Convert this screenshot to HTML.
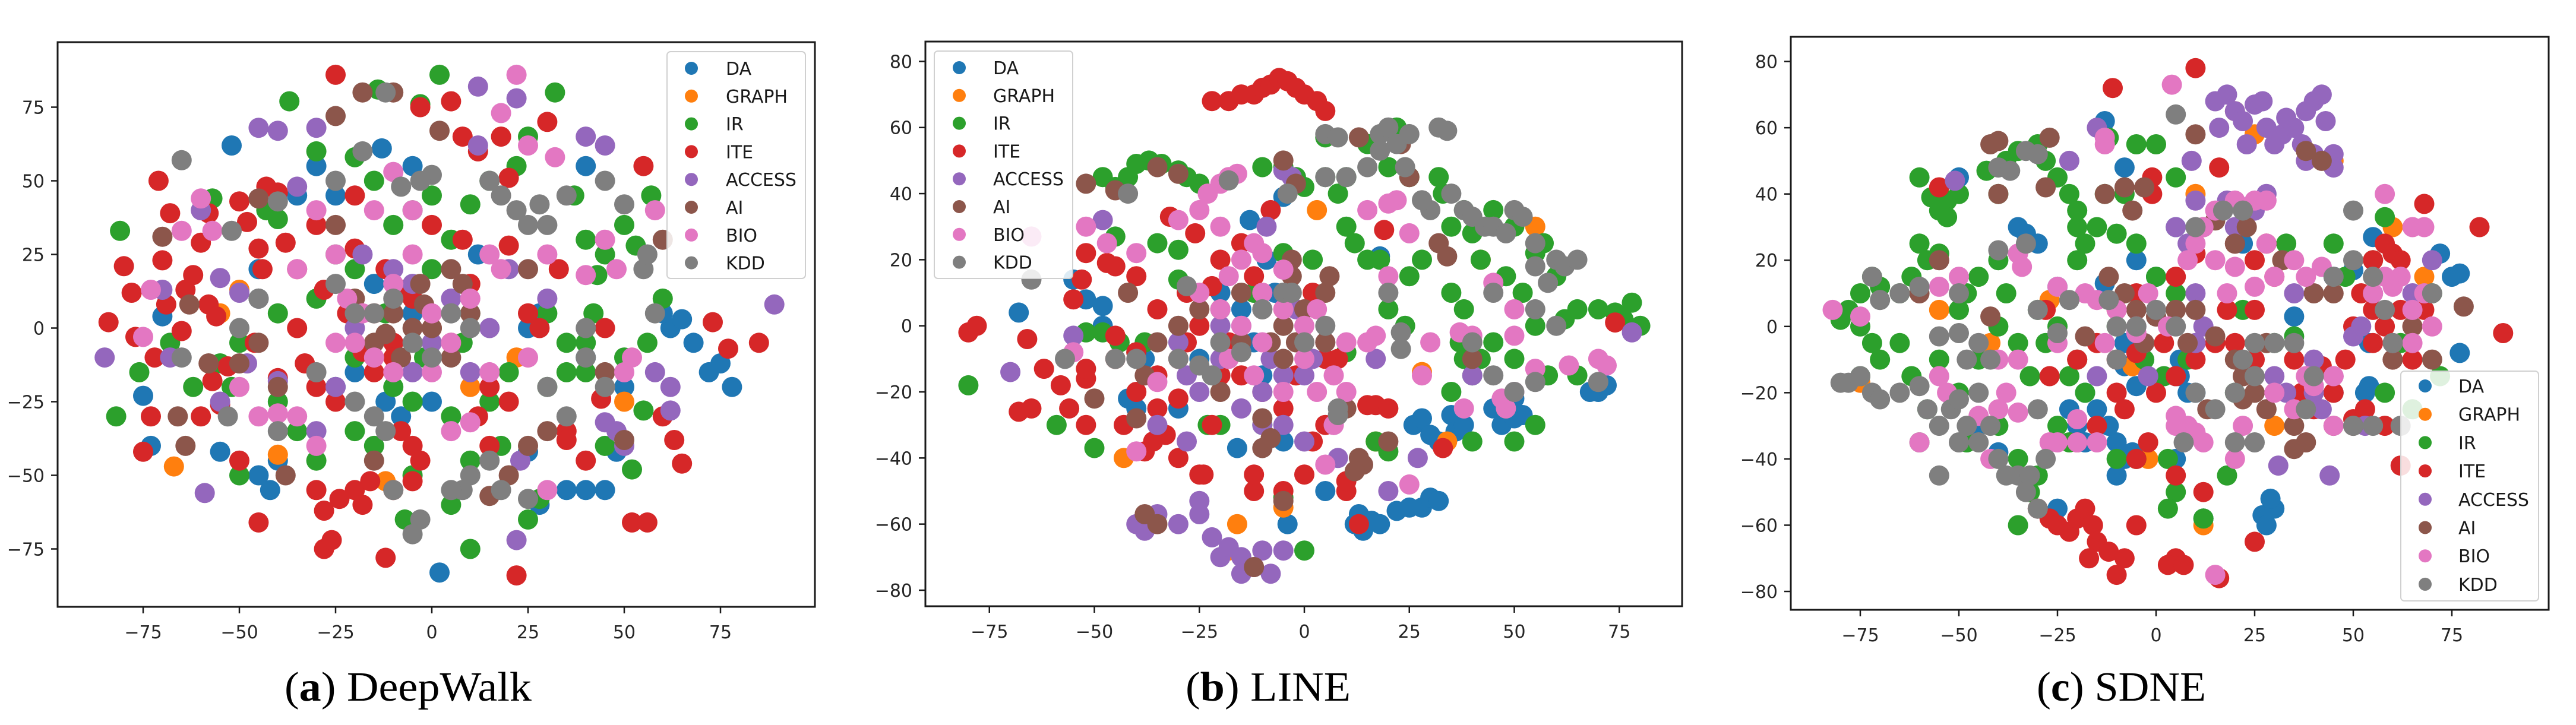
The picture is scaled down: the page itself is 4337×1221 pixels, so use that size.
<!DOCTYPE html>
<html><head><meta charset="utf-8">
<style>
html,body{margin:0;padding:0;background:#fff;}
svg{display:block;}
text{font-family:"DejaVu Sans","Liberation Sans",sans-serif;}
.cap{font-family:"Liberation Serif",serif;}
</style></head>
<body>
<svg id="fig" width="4337" height="1221" viewBox="0 0 4337 1221" xmlns="http://www.w3.org/2000/svg"></svg>
<script>
const categories = ["DA","GRAPH","IR","ITE","ACCESS","AI","BIO","KDD"];
const colors = ["#1f77b4","#ff7f0e","#2ca02c","#d62728","#9467bd","#8c564b","#e377c2","#7f7f7f"];
const xTicksA = [-75,-50,-25,0,25,50,75];
const yTicksA = [-75,-50,-25,0,25,50,75];
const xTicksB = [-75,-50,-25,0,25,50,75];
const yTicksB = [-80,-60,-40,-20,0,20,40,60,80];
const xTicksC = [-75,-50,-25,0,25,50,75];
const yTicksC = [-80,-60,-40,-20,0,20,40,60,80];

// Panel A (DeepWalk)
const aDA=[[-52,62],[-13,61],[-5,55],[-70,4],[-75,-23],[-73,-40],[-55,-42],[-45,-50],[-42,-55],[-40,-45],[-25,-20],[-12,-25],[-8,-30],[0,-25],[2,-83],[25,0],[28,5],[40,55],[48,-42],[45,-55],[40,-55],[35,-55],[28,-60],[62,0],[65,3],[60,5],[68,-5],[75,-12],[78,-20],[72,-15],[-25,45],[-15,15],[-5,5],[-35,45],[40,-10],[-20,-15],[50,-20],[25,-42],[-30,55],[12,25],[-45,20]];
const aGRAPH=[[-67,-47],[-40,-43],[-12,-52],[-50,13],[-55,5],[10,-20],[50,-25],[22,-10]];
const aIR=[[2,86],[-37,77],[-14,81],[-3,76],[-81,33],[-43,40],[-40,37],[-57,44],[-30,60],[-20,58],[-15,50],[-10,35],[-5,40],[0,45],[5,30],[10,42],[15,50],[22,55],[25,65],[32,80],[37,45],[40,30],[43,18],[45,25],[50,35],[53,28],[57,45],[60,10],[56,-5],[50,-10],[40,-5],[35,-15],[30,-20],[20,-15],[15,-25],[5,-30],[-5,-25],[-10,-20],[-20,-10],[-30,10],[-40,5],[-45,10],[-50,-5],[-52,-20],[-55,-12],[-62,-20],[-68,-5],[-76,-15],[-82,-30],[-40,-25],[-35,-35],[-50,-50],[-30,-45],[-20,-35],[-15,-40],[-5,-50],[-7,-65],[5,-60],[10,-75],[25,-65],[28,-58],[18,-40],[10,-45],[55,-28],[40,-15],[45,-40],[52,-48],[8,-5],[-20,20],[-25,25],[0,20],[30,5],[35,-5],[42,5],[-12,5],[10,5],[-2,-10]];
const aITE=[[-25,86],[-80,21],[-78,12],[-84,2],[-77,-3],[-72,-10],[-71,50],[-70,23],[-68,39],[-69,8],[-65,-1],[-64,13],[-62,18],[-58,8],[-56,4],[-57,-18],[-53,-13],[-50,43],[-48,36],[-46,-5],[-45,27],[-44,20],[-40,46],[-40,-17],[-38,29],[-35,20],[-33,-12],[-30,35],[-28,13],[-25,-25],[-22,5],[-20,27],[-18,-8],[-15,-15],[-12,20],[-10,-5],[-8,13],[-5,-40],[-3,75],[5,77],[8,65],[12,60],[18,65],[20,51],[20,28],[25,5],[30,70],[35,-35],[35,-38],[40,-45],[60,-30],[55,55],[63,-38],[65,-46],[73,2],[77,-7],[85,-5],[52,-66],[56,-66],[-30,-55],[-28,-62],[-24,-58],[-20,-55],[-18,-60],[-16,-52],[-12,-78],[-28,-75],[-26,-72],[-45,-66],[-5,-52],[-10,-55],[22,-84],[15,-40],[-3,-45],[-10,-10],[0,0],[5,-5],[-5,10],[10,15],[15,-20],[-15,5],[-35,0],[-30,-20],[20,-25],[28,0],[-60,-30],[-73,-30],[-75,-42],[-55,-26],[-60,29],[-58,39],[-43,48],[-50,-45],[-8,-35],[12,-30],[-20,45],[0,35],[8,30],[33,20],[45,0],[44,-24]];
const aACCESS=[[-45,68],[-40,67],[-30,68],[12,82],[22,78],[-60,40],[-70,13],[-68,-10],[-85,-10],[-55,17],[-50,12],[-45,10],[-48,-12],[-40,-18],[-55,-25],[-59,-56],[-30,-35],[-25,-20],[-18,25],[-10,20],[-5,15],[0,-5],[5,10],[10,-15],[20,20],[23,-45],[22,-72],[58,-15],[62,-28],[62,-20],[48,-35],[50,-40],[45,-32],[45,62],[40,65],[89,8],[12,62],[-35,48],[-5,-15],[15,0],[30,10],[-20,0]];
const aAI=[[-25,72],[-18,80],[-10,80],[-15,-5],[-10,5],[-5,0],[0,0],[-20,10],[-8,-10],[5,-10],[10,5],[-3,15],[5,20],[-40,-20],[-50,-12],[-58,-12],[-64,-40],[-66,-30],[-70,31],[-63,8],[-45,-5],[-38,-50],[-15,-45],[20,-50],[25,-40],[15,-57],[2,67],[45,-15],[50,-38],[60,30],[-45,44],[-25,35],[25,20],[30,-35],[8,15],[-12,-2],[-2,8]];
const aBIO=[[22,86],[18,73],[25,62],[32,58],[-60,44],[-65,33],[-57,33],[-73,13],[-75,-3],[-50,-20],[-45,-30],[-40,-29],[-35,-30],[-30,-40],[-25,-5],[-22,10],[-18,5],[-15,-10],[-10,15],[-5,25],[0,5],[5,-5],[10,10],[15,-15],[-20,-5],[-30,40],[-15,40],[-10,53],[45,30],[58,40],[50,-15],[52,-10],[40,18],[48,20],[30,25],[18,20],[25,-10],[30,-55],[10,-32],[5,-35],[-35,20],[-5,40],[-10,-15],[0,-15],[15,25],[-25,25]];
const aKDD=[[-12,80],[-65,57],[-40,43],[-52,33],[-45,10],[-50,0],[-65,-10],[-53,-30],[-40,-35],[-20,-25],[-15,-30],[-12,-35],[-30,-15],[-15,5],[-10,10],[-5,-5],[0,-10],[5,5],[10,0],[-20,5],[-25,15],[15,50],[18,45],[22,40],[25,35],[28,42],[30,35],[35,45],[45,50],[50,42],[55,20],[58,5],[56,25],[40,-10],[45,-20],[30,-20],[10,-50],[8,-55],[5,-55],[15,-45],[18,-55],[-3,-65],[-5,-70],[-10,-55],[25,-58],[35,-30],[0,52],[-3,50],[-18,60],[-25,50],[-8,48],[40,0]];

// Panel B (LINE)
const bDA=[[-5,39],[-13,32],[-9,20],[-55,14],[-68,4],[-52,8],[-48,6],[-48,0],[-40,-25],[-38,-10],[-42,-22],[-30,-25],[-25,-10],[-16,-37],[-12,-5],[-10,-15],[-4,-60],[-5,-35],[5,-50],[12,-60],[14,-62],[13,-57],[16,-59],[18,-60],[22,-56],[25,-55],[28,-55],[30,-52],[32,-53],[26,-30],[28,-28],[30,-33],[32,-35],[35,-27],[36,-32],[38,-30],[45,-25],[47,-30],[50,-28],[52,-27],[50,-22],[70,-20],[72,-18],[68,-20],[-20,10],[-15,5],[-7,10],[18,21]];
const bGRAPH=[[3,35],[-43,-40],[-16,-60],[-18,-68],[34,-35],[42,20],[55,30],[-5,-55],[17,-35],[28,-14]];
const bIR=[[-48,45],[-45,42],[-42,45],[-40,49],[-37,50],[-34,49],[-30,47],[-28,45],[-25,43],[-80,-18],[-59,-30],[-50,-37],[-44,-5],[-48,-2],[-40,-8],[-35,25],[-30,23],[-30,14],[-45,27],[-52,-2],[-10,48],[-5,48],[-2,45],[0,42],[5,45],[8,40],[10,45],[5,57],[15,55],[22,60],[20,48],[25,45],[32,45],[33,40],[35,30],[38,35],[40,28],[45,35],[42,20],[50,30],[55,22],[48,15],[52,10],[60,15],[57,25],[55,0],[62,2],[50,-10],[45,-5],[42,-10],[38,5],[35,10],[37,-5],[40,-15],[35,-20],[48,-25],[50,-35],[58,-15],[65,-15],[70,5],[74,4],[76,2],[80,0],[78,7],[65,5],[10,30],[12,25],[15,20],[18,20],[20,5],[25,15],[28,20],[24,0],[2,20],[-5,22],[-12,10],[-20,5],[-23,-30],[-10,-30],[17,-35],[20,-38],[40,-35],[0,-68],[-5,-52],[-20,-30],[10,-8],[38,-10],[55,-30],[-38,-5]];
const bITE=[[-22,68],[-18,68],[-15,70],[-12,70],[-10,72],[-8,73],[-6,75],[-4,74],[-2,72],[0,70],[3,68],[5,65],[-80,-2],[-78,0],[-66,-4],[-68,-26],[-65,-25],[-62,-13],[-58,-18],[-56,-25],[-52,-30],[-52,-16],[-52,-13],[-55,8],[-53,14],[-52,22],[-47,19],[-45,18],[-45,-10],[-43,-30],[-40,-20],[-38,-38],[-36,-35],[-35,-25],[-33,-33],[-32,33],[-30,-40],[-30,-22],[-28,-5],[-26,28],[-25,-45],[-24,-45],[-22,-30],[-20,20],[-18,-5],[-15,25],[-12,-50],[-12,-45],[-10,10],[-8,35],[-5,-25],[-5,-50],[-2,-15],[0,-45],[2,-35],[5,-30],[8,-10],[10,-50],[10,-47],[15,-24],[17,-24],[20,-25],[19,29],[13,-60],[33,-37],[74,1],[-35,5],[-30,-10],[-25,0],[-20,-15],[-15,-15],[-10,-20],[-5,5],[0,-5],[5,-10],[-28,10],[-35,-15],[-22,12],[-12,15],[2,10],[-40,15],[-45,-3],[-40,-8]];
const bACCESS=[[-48,32],[-55,-3],[-70,-14],[-40,-60],[-38,-62],[-35,-57],[-30,-60],[-25,-57],[-25,-53],[-22,-64],[-20,-70],[-18,-67],[-15,-70],[-12,-73],[-10,-68],[-15,-75],[-8,-75],[-5,-68],[-30,-5],[-28,-15],[-25,-20],[-20,-10],[-15,-25],[-10,-20],[-8,-10],[-5,-15],[0,-15],[2,-10],[5,-5],[-35,-30],[-28,-35],[-10,-30],[-9,30],[-5,-30],[0,-35],[7,-30],[8,-40],[17,-10],[20,-50],[27,-40],[40,-15],[78,-2],[-5,47],[-3,45],[-15,0],[-20,0],[-2,5]];
const bAI=[[-52,43],[-45,41],[-35,48],[-30,46],[-42,10],[-40,-28],[-50,-22],[-38,-15],[-35,-5],[-30,0],[-25,5],[-20,5],[-15,10],[-10,5],[-5,0],[0,5],[5,10],[-15,-5],[-8,-5],[-2,-5],[5,-5],[-5,-10],[-20,-20],[-10,-28],[-10,-37],[-8,-34],[-12,-73],[-5,-53],[-3,20],[-3,15],[-5,50],[-2,43],[14,-42],[10,-25],[13,-40],[12,-44],[-35,-60],[-38,-57],[13,57],[20,-35],[23,55],[25,45],[32,25],[34,21],[40,-10],[6,15]];
const bBIO=[[-20,43],[-18,45],[-16,46],[-23,40],[-52,30],[-47,25],[-40,22],[-30,32],[-25,35],[-20,30],[-18,15],[-15,20],[-12,25],[-10,22],[-5,17],[-25,10],[-20,5],[-15,0],[-10,10],[-5,5],[0,0],[3,5],[-18,-10],[-10,-5],[0,-10],[-12,-15],[-5,-20],[3,-20],[7,-15],[10,-20],[10,-5],[15,-5],[17,-3],[20,15],[22,38],[20,37],[25,28],[28,-15],[30,-5],[37,-2],[40,-3],[50,-3],[47,-22],[48,-25],[50,-20],[55,-13],[63,-12],[70,-10],[72,-12],[45,13],[50,5],[-35,-17],[-55,-8],[-65,27],[7,-30],[-40,-38],[5,-42],[25,-48],[15,35],[38,-25]];
const bKDD=[[5,58],[8,57],[18,58],[20,60],[22,55],[25,58],[18,53],[24,48],[32,60],[34,59],[5,45],[10,45],[15,48],[35,40],[30,35],[28,38],[38,35],[40,33],[43,30],[45,30],[48,28],[50,35],[52,33],[55,25],[55,18],[60,20],[58,13],[62,18],[65,20],[45,10],[55,5],[60,0],[40,-5],[45,-15],[50,-20],[55,-17],[20,10],[23,-2],[23,-7],[8,-25],[8,-27],[5,0],[-5,10],[-10,5],[-15,-8],[-20,-5],[-25,-12],[-30,-10],[-28,12],[-40,-10],[-45,-10],[-57,-10],[-65,14],[-42,40],[-4,40],[-18,44],[-3,10],[0,-5],[-22,-15],[70,-17]];

// Panel C (SDNE)
const cDA=[[-50,45],[-8,48],[-13,62],[-35,30],[-33,28],[-30,25],[-22,-25],[-20,-30],[-18,-35],[-15,-25],[-18,-20],[-10,-35],[-8,-40],[-10,-45],[-12,-30],[-6,-38],[6,-15],[8,-20],[6,-10],[10,-20],[-8,-12],[-5,-18],[27,-57],[28,-60],[30,-55],[29,-52],[5,-40],[12,-58],[-25,-55],[-40,-38],[-45,-30],[-5,20],[0,15],[-13,13],[-25,12],[5,30],[22,25],[-8,-5],[35,3],[45,-20],[50,17],[53,-20],[54,-18],[55,27],[75,15],[77,16],[77,-8],[72,22],[54,-5],[45,15],[5,-15]];
const cGRAPH=[[-42,-5],[-55,5],[-27,8],[-6,-12],[-2,-40],[12,-60],[20,65],[25,58],[32,20],[45,50],[60,30],[68,15],[30,-30],[10,40],[-75,-17]];
const cIR=[[-60,45],[-57,39],[-55,35],[-53,38],[-50,40],[-53,33],[-60,25],[-58,20],[-55,22],[-62,15],[-65,10],[-70,12],[-72,15],[-75,10],[-78,5],[-80,2],[-75,0],[-72,-5],[-70,-10],[-75,-15],[-65,-5],[-62,-15],[-58,-25],[-60,-35],[-55,-10],[-50,5],[-48,10],[-45,15],[-40,20],[-40,40],[-43,47],[-38,50],[-35,53],[-30,55],[-28,50],[-25,45],[-22,40],[-20,30],[-20,20],[-18,25],[-15,30],[-10,28],[-5,25],[-38,10],[-40,0],[-35,-5],[-30,5],[-25,0],[-32,-15],[-22,-15],[-18,-20],[-25,-30],[-22,-35],[-35,-40],[-30,-45],[-32,-50],[-35,-60],[-28,-5],[-20,-10],[-10,0],[-3,-10],[2,-15],[-5,-40],[3,-40],[5,-50],[8,-10],[5,10],[0,15],[-5,55],[-12,57],[5,45],[0,55],[-8,40],[-13,40],[-45,-10],[-50,-20],[-48,-35],[-40,-30],[12,-58],[18,-45],[20,-20],[22,5],[30,-5],[35,-3],[40,-18],[48,15],[45,25],[55,20],[58,33],[62,-5],[70,10],[58,-20],[72,-15],[65,-25],[33,25],[-10,-40],[3,-55],[-20,35]];
const cITE=[[10,78],[-11,72],[-55,42],[-1,45],[-1,40],[16,48],[20,25],[25,20],[28,25],[30,15],[25,5],[18,5],[15,-5],[20,-5],[25,-10],[22,-15],[10,-10],[5,-15],[2,-5],[-5,-8],[-10,-10],[-15,-5],[-20,-10],[-10,5],[-5,10],[5,15],[10,22],[0,-20],[-10,-20],[-8,-25],[-15,-30],[-20,-35],[-27,-15],[-28,5],[-2,-35],[5,-45],[-5,-40],[12,-50],[25,-65],[16,-76],[5,-70],[3,-72],[7,-72],[-30,-55],[-27,-58],[-25,-60],[-22,-62],[-20,-58],[-18,-55],[-16,-60],[-15,-65],[-12,-68],[-8,-70],[-17,-70],[-5,-60],[-10,-75],[55,20],[58,25],[60,22],[62,20],[52,10],[55,5],[58,0],[60,-5],[62,5],[65,0],[68,5],[55,-5],[50,0],[48,-10],[45,-20],[40,-25],[50,-28],[60,-10],[65,-10],[82,30],[88,-2],[62,-42],[68,37],[42,-12],[35,-10],[37,-20],[53,-25],[58,-30]];
const cACCESS=[[15,68],[20,65],[22,62],[25,67],[27,68],[18,70],[28,60],[30,55],[32,58],[35,60],[38,65],[40,68],[42,70],[43,62],[37,55],[38,50],[40,52],[45,52],[45,48],[33,63],[23,55],[16,60],[-15,60],[-22,50],[-51,44],[9,50],[10,38],[18,38],[22,36],[25,35],[28,40],[5,30],[8,25],[10,10],[12,0],[10,-5],[-3,-5],[-15,-15],[-2,-15],[30,-15],[33,-20],[40,-20],[42,-25],[45,-15],[50,-3],[52,0],[55,10],[65,10],[70,20],[53,-30],[40,-10],[31,-42],[44,-45],[20,30],[35,10]];
const cAI=[[-42,55],[-40,56],[-27,57],[-28,42],[-40,40],[-55,20],[-60,10],[-42,3],[-13,40],[-8,42],[-3,42],[-6,35],[-18,-3],[-12,15],[-8,10],[-5,5],[0,3],[5,5],[-3,-5],[10,5],[8,-5],[12,30],[15,32],[20,25],[23,30],[15,-3],[20,-10],[22,-15],[25,-20],[28,-25],[22,-22],[35,-30],[38,-35],[35,-37],[45,-30],[50,-30],[40,10],[45,10],[55,15],[60,-10],[65,0],[70,-10],[78,6],[38,53],[42,50],[10,58],[28,-5],[13,-25],[32,20]];
const cBIO=[[4,73],[-13,57],[-13,55],[-34,18],[-35,22],[-25,12],[-18,10],[-15,8],[-10,5],[-5,0],[-13,-5],[-20,-28],[-25,-35],[-27,-35],[-35,-26],[-40,-25],[-45,-27],[-38,-20],[-40,-10],[-53,-20],[-55,-15],[-50,15],[-55,12],[-82,5],[-75,3],[-20,-35],[-15,-35],[5,-27],[8,-30],[10,-32],[12,-35],[5,-30],[15,20],[18,10],[20,18],[25,12],[28,25],[30,15],[15,35],[12,30],[10,25],[8,20],[20,38],[25,38],[28,38],[30,-20],[35,-25],[38,-15],[40,-18],[45,-15],[45,-30],[35,20],[38,15],[42,18],[55,10],[58,15],[60,12],[62,15],[65,5],[68,10],[70,0],[65,-5],[60,-5],[58,40],[65,30],[68,30],[20,-40],[15,-75],[22,-30],[-5,-2],[-42,-40],[-60,-35],[-25,-5],[-35,-10],[-2,10],[3,0]];
const cKDD=[[5,64],[-40,48],[-37,47],[-33,53],[-30,52],[-33,25],[-40,23],[-50,10],[-60,12],[-65,10],[-70,8],[-72,15],[-75,-15],[-78,-17],[-80,-17],[-72,-20],[-70,-22],[-65,-20],[-60,-18],[-58,-25],[-55,-30],[-52,-25],[-50,-22],[-48,-30],[-50,-35],[-45,-35],[-42,-30],[-45,-20],[-48,-10],[-45,-5],[-42,-10],[-50,-2],[-55,-3],[-55,-45],[-40,-40],[-38,-45],[-35,-45],[-33,-50],[-30,-55],[-32,-45],[-28,-40],[-30,-25],[-30,5],[-25,-2],[-22,8],[-12,8],[-10,0],[-5,0],[0,5],[5,0],[-10,-10],[10,-20],[15,-25],[20,-35],[25,-35],[22,-10],[25,-15],[20,-20],[25,-5],[30,-5],[35,-5],[38,-25],[40,-15],[50,-30],[55,-30],[10,30],[17,35],[22,35],[45,15],[50,20],[55,15],[58,5],[60,-5],[70,10],[62,-30],[50,35],[7,-35]];

const NS="http://www.w3.org/2000/svg";
const svg=document.getElementById('fig');
function mk(tag,attrs,parent){const e=document.createElementNS(NS,tag);for(const k in attrs)e.setAttribute(k,attrs[k]);(parent||svg).appendChild(e);return e;}

const panels=[
 {id:'deepwalk',series:[aDA,aGRAPH,aIR,aITE,aACCESS,aAI,aBIO,aKDD],xt:xTicksA,yt:yTicksA,
  box:[97,71,1372,1022],x0:727,xs:6.48,y0:552.5,ys:4.96,
  leg:[1123,87,233,382],legMx:1164,legTx:1222,legY:115,legStep:46.8,
  capL:'a',capR:' DeepWalk',capX:479,capW:416},
 {id:'line',series:[bDA,bGRAPH,bIR,bITE,bACCESS,bAI,bBIO,bKDD],xt:xTicksB,yt:yTicksB,
  box:[1558,70,2832,1021],x0:2196,xs:7.07,y0:548.7,ys:5.566,
  leg:[1573,86,233,383],legMx:1615,legTx:1672,legY:114,legStep:46.8,
  capL:'b',capR:' LINE',capX:1996,capW:278},
 {id:'sdne',series:[cDA,cGRAPH,cIR,cITE,cACCESS,cAI,cBIO,cKDD],xt:xTicksC,yt:yTicksC,
  box:[3015,62,4291,1027],x0:3630,xs:6.64,y0:549.8,ys:5.578,
  leg:[4042,625,232,387],legMx:4083,legTx:4139,legY:650,legStep:47.7,
  capL:'c',capR:' SDNE',capX:3429,capW:285}
];

panels.forEach(p=>{
  const g=mk('g',{});
  
  
  const X=v=>p.x0+v*p.xs, Y=v=>p.y0-v*p.ys;
  const [l,t,r,b]=p.box;
  const clipId='clip-'+p.id;
  const cp=mk('clipPath',{id:clipId},g);
  mk('rect',{x:l,y:t,width:r-l,height:b-t},cp);
  const pts=mk('g',{'clip-path':'url(#'+clipId+')'},g);
  
  
  p.series.forEach((s,ci)=>{
    const sg=mk('g',{fill:colors[ci]},pts);
    
    
    s.forEach(pt=>{
      const c=mk('circle',{cx:X(pt[0]).toFixed(1),cy:Y(pt[1]).toFixed(1),r:17},sg);
      
      
    });
  });
  const frame=mk('rect',{x:l,y:t,width:r-l,height:b-t,fill:'none',stroke:'#1a1a1a','stroke-width':3},g);
  
  
  p.xt.forEach(v=>{
    const x=X(v);
    mk('line',{x1:x,y1:b,x2:x,y2:b+11,stroke:'#1a1a1a','stroke-width':2.5},g);
    const tx=mk('text',{x:x,y:b+53,'font-size':30,'text-anchor':'middle',fill:'#262626'},g);
    tx.textContent=(v<0?'\u2212'+(-v):String(v));
    
    
  });
  p.yt.forEach(v=>{
    const y=Y(v);
    mk('line',{x1:l-11,y1:y,x2:l,y2:y,stroke:'#1a1a1a','stroke-width':2.5},g);
    const tx=mk('text',{x:l-22,y:y+11,'font-size':30,'text-anchor':'end',fill:'#262626'},g);
    tx.textContent=(v<0?'\u2212'+(-v):String(v));
    
    
  });
  const lg=mk('g',{},g);
  
  
  const [lx,ly,lw,lh]=p.leg;
  mk('rect',{x:lx,y:ly,width:lw,height:lh,rx:6,fill:'#fff','fill-opacity':0.85,stroke:'#d0d0d0','stroke-width':2},lg);
  categories.forEach((c,i)=>{
    const y=p.legY+i*p.legStep;
    const e=mk('g',{},lg);
    
    
    mk('circle',{cx:p.legMx,cy:y,r:11,fill:colors[i]},e);
    const t=mk('text',{x:p.legTx,y:y+11,'font-size':30,fill:'#1a1a1a'},e);
    t.textContent=c;
  });
  const cap=mk('text',{x:p.capX,y:1180,'font-size':70,fill:'#000','class':'cap',textLength:p.capW,lengthAdjust:'spacingAndGlyphs'},g);
  
  
  const t1=mk('tspan',{},cap); t1.textContent='(';
  const t2=mk('tspan',{'font-weight':'bold'},cap); t2.textContent=p.capL;
  const t3=mk('tspan',{},cap); t3.textContent=')'+p.capR;
});
</script>
</body></html>
